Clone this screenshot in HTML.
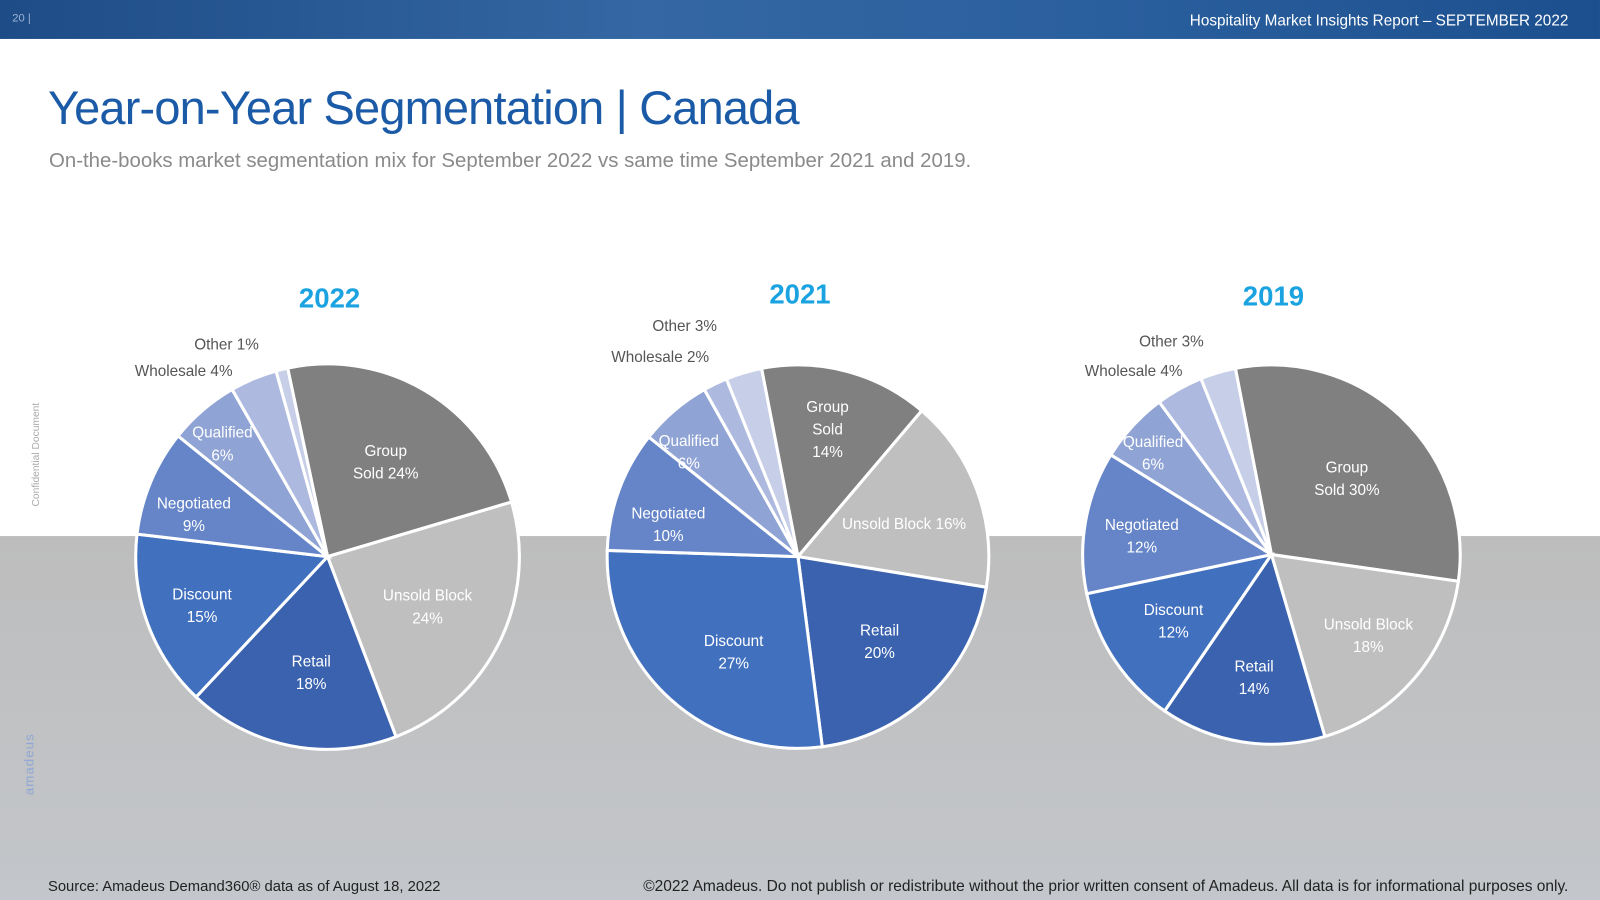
<!DOCTYPE html>
<html><head><meta charset="utf-8"><style>
html,body{margin:0;padding:0;width:1600px;height:900px;overflow:hidden;background:#bfbfbf;}
#wrap{position:absolute;left:0;top:0;width:1568px;height:878px;transform:scale(1.0204,1.0251);transform-origin:0 0;font-family:"Liberation Sans",sans-serif;}
.t{position:absolute;white-space:nowrap;}
</style></head><body>
<div id="wrap">
<div style="position:absolute;left:0;top:0;width:1568px;height:523px;background:#fff"></div>
<div style="position:absolute;left:0;top:523px;width:1568px;height:355px;background:linear-gradient(#bdbdbd,#c3c6ca)"></div>
<div style="position:absolute;left:0;top:0;width:1568px;height:38px;background:linear-gradient(90deg,#1e4c86,#3467a3 40%,#2a5f9e 70%,#1c4f8e)"></div>
<div class="t" style="left:12px;top:12px;font-size:11px;color:#9db4d4">20 |</div>
<div class="t" style="right:31px;top:12px;font-size:15px;color:#fff">Hospitality Market Insights Report – SEPTEMBER 2022</div>
<div class="t" style="left:47px;top:78px;font-size:46px;color:#1a5aa6;letter-spacing:-0.8px">Year-on-Year Segmentation | Canada</div>
<div class="t" style="left:48px;top:146px;font-size:20px;color:#8a8a8a">On-the-books market segmentation mix for September 2022 vs same time September 2021 and 2019.</div>
<div class="t" style="left:-15px;top:438px;font-size:10px;color:#aaa;transform:rotate(-90deg)">Confidential Document</div>
<div class="t" style="left:-2px;top:738px;font-size:13px;color:#8fa7d6;transform:rotate(-90deg);letter-spacing:1px">amadeus</div>
<svg id="chart" width="1568" height="878" style="position:absolute;left:0;top:0" font-family="Liberation Sans, sans-serif"></svg>
<div class="t" style="left:47px;top:857px;font-size:14.5px;color:#222">Source: Amadeus Demand360® data as of August 18, 2022</div>
<div class="t" style="right:31px;top:856px;font-size:15.2px;color:#222">©2022 Amadeus. Do not publish or redistribute without the prior written consent of Amadeus. All data is for informational purposes only.</div>
</div>
<script>
const categories=["Group Sold","Unsold Block","Retail","Discount","Negotiated","Qualified","Wholesale","Other"];
const years=["2022","2021","2019"];
const values2022=[24,24,18,15,9,6,4,1];
const values2021=[14,16,20,27,10,6,2,3];
const values2019=[30,18,14,12,12,6,4,3];
const colors=["#808080","#bfbfbf","#3a62ae","#4170be","#6585c8","#8fa3d4","#adb9df","#c7cfe8"];
const pies=[{cx:321,cy:543,r:188,start:-12,vals:values2022,ty:300,
 labels:[["Group","Sold 24%",378,440,1],["Unsold Block","24%",419,581,1],["Retail","18%",305,645,1],["Discount","15%",198,580,1],["Negotiated","9%",190,491,1],["Qualified","6%",218,422,1],["Wholesale 4%",null,180,362,0],["Other 1%",null,222,336,0]]},
 {cx:782,cy:543,r:187,start:-11,vals:values2021,ty:296,
 labels:[["Group","Sold","14%",811,397],["Unsold Block 16%",null,886,511,1],["Retail","20%",862,615,1],["Discount","27%",719,625,1],["Negotiated","10%",655,501,1],["Qualified","6%",675,430,1],["Wholesale 2%",null,647,348,0],["Other 3%",null,671,318,0]]},
 {cx:1246,cy:541,r:185,start:-11,vals:values2019,ty:298,
 labels:[["Group","Sold 30%",1320,456,1],["Unsold Block","18%",1341,609,1],["Retail","14%",1229,650,1],["Discount","12%",1150,595,1],["Negotiated","12%",1119,512,1],["Qualified","6%",1130,431,1],["Wholesale 4%",null,1111,362,0],["Other 3%",null,1148,333,0]]}];
const svg=document.getElementById('chart');
const NS='http://www.w3.org/2000/svg';
function pt(cx,cy,r,deg){const a=(deg-90)*Math.PI/180;return [cx+r*Math.cos(a),cy+r*Math.sin(a)];}
pies.forEach((p,pi)=>{
 const tot=p.vals.reduce((a,b)=>a+b,0);
 let ang=p.start;
 p.vals.forEach((v,i)=>{
  const sweep=v/tot*360;
  const [x1,y1]=pt(p.cx,p.cy,p.r,ang),[x2,y2]=pt(p.cx,p.cy,p.r,ang+sweep);
  const path=document.createElementNS(NS,'path');
  path.setAttribute('d',`M${p.cx},${p.cy}L${x1},${y1}A${p.r},${p.r} 0 ${sweep>180?1:0} 1 ${x2},${y2}Z`);
  path.setAttribute('fill',colors[i]);path.setAttribute('stroke','#fff');path.setAttribute('stroke-width','3');
  
  
  svg.appendChild(path);
  ang+=sweep;
 });
 const title=document.createElementNS(NS,'text');
 title.setAttribute('x',p.cx+2);title.setAttribute('y',p.ty);title.setAttribute('text-anchor','middle');
 title.setAttribute('font-size','27');title.setAttribute('font-weight','bold');title.setAttribute('fill','#1aa3e0');
 title.textContent=years[pi];
 
 
 svg.appendChild(title);
 p.labels.forEach((l,i)=>{
  const lines=[l[0]];
  let x,y,inside=true;
  if(typeof l[2]==='string'){lines.push(l[1],l[2]);x=l[3];y=l[4];}
  else{if(l[1])lines.push(l[1]);x=l[2];y=l[3];inside=!!l[4];}
  lines.forEach((s,k)=>{
   const t=document.createElementNS(NS,'text');
   t.setAttribute('x',x);t.setAttribute('y',y+5+k*22);t.setAttribute('text-anchor','middle');
   t.setAttribute('font-size','15');t.setAttribute('fill',inside?'#fff':'#555');
   t.textContent=s;
   
   
   svg.appendChild(t);
  });
 });
});
</script>
</body></html>
